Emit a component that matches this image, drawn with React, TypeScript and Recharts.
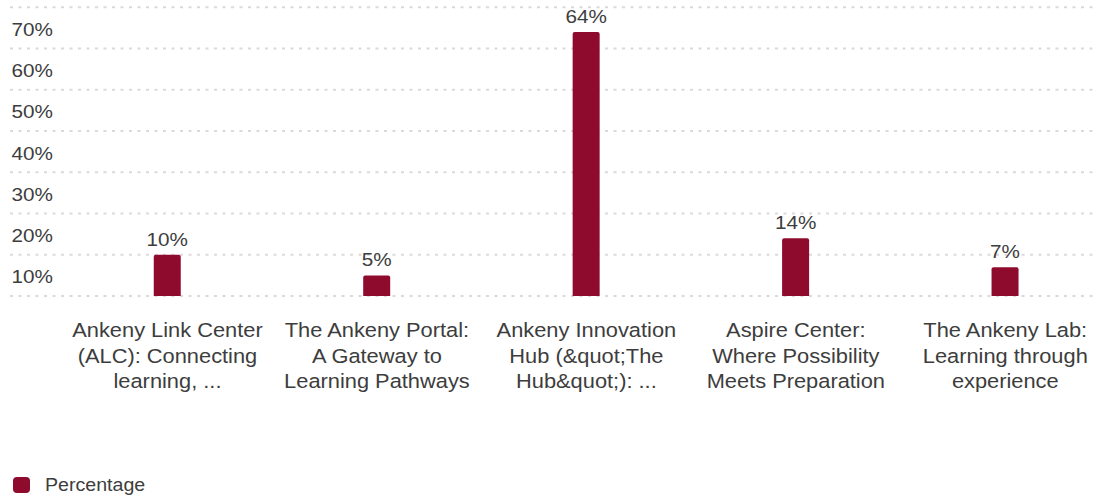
import { BarChart, Bar, XAxis, YAxis, CartesianGrid, LabelList } from 'recharts'

const CATEGORIES = [
  'Ankeny Link Center\n(ALC): Connecting\nlearning, ...',
  'The Ankeny Portal:\nA Gateway to\nLearning Pathways',
  'Ankeny Innovation\nHub (&quot;The\nHub&quot;): ...',
  'Aspire Center:\nWhere Possibility\nMeets Preparation',
  'The Ankeny Lab:\nLearning through\nexperience',
]

const PERCENTAGES = [10, 5, 64, 14, 7]

const Y_TICKS = [0, 10, 20, 30, 40, 50, 60, 70]

const SERIES_NAME = 'Percentage'

const BAR_COLOR = '#8e0b2e'
const TEXT_COLOR = '#3d3d3d'
const FONT = '"Liberation Sans", Arial, sans-serif'
const STRETCH = 1.12

const chartData = CATEGORIES.map((name, i) => ({ name, value: PERCENTAGES[i] }))

function YTick({ y, payload }: any) {
  if (!payload.value) return null
  return (
    <text
      transform={`translate(11.5, ${y + 28.5}) scale(${STRETCH}, 1)`}
      fill={TEXT_COLOR}
      fontSize={18.5}
      fontFamily={FONT}
      textAnchor="start"
    >
      {payload.value}%
    </text>
  )
}

function XTick({ x, y, payload }: any) {
  const lines = String(payload.value).split('\n')
  return (
    <g>
      {lines.map((line: string, i: number) => (
        <text
          key={i}
          transform={`translate(${x}, ${y + 41 + i * 25.5}) scale(${STRETCH}, 1)`}
          fill={TEXT_COLOR}
          fontSize={19.5}
          fontFamily={FONT}
          textAnchor="middle"
        >
          {line}
        </text>
      ))}
    </g>
  )
}

function ValueLabel({ x, y, width, value }: any) {
  return (
    <text
      transform={`translate(${x + width / 2}, ${y - 9}) scale(${STRETCH}, 1)`}
      fill={TEXT_COLOR}
      fontSize={18.5}
      fontFamily={FONT}
      textAnchor="middle"
    >
      {value}%
    </text>
  )
}

export default function App() {
  return (
    <div
      style={{
        position: 'absolute',
        left: 0,
        top: 0,
        width: 1097,
        height: 497,
        overflow: 'hidden',
        background: '#fff',
      }}
    >
      <BarChart
        width={1120}
        height={497}
        data={chartData}
        margin={{ top: 7.25, right: 10, bottom: 81, left: 10 }}
      >
        <CartesianGrid
          horizontal
          vertical={false}
          x={10}
          width={1110}
          stroke="#dadada"
          strokeWidth={2}
          strokeDasharray="3 5.5"
        />
        <YAxis
          width={52.75}
          domain={[0, 70]}
          ticks={Y_TICKS}
          interval={0}
          axisLine={false}
          tickLine={false}
          tickSize={0}
          tick={<YTick />}
        />
        <XAxis
          dataKey="name"
          height={120}
          interval={0}
          axisLine={false}
          tickLine={false}
          tickSize={0}
          tickMargin={0}
          tick={<XTick />}
        />
        <Bar
          dataKey="value"
          name={SERIES_NAME}
          fill={BAR_COLOR}
          barSize={27}
          radius={[2, 2, 0, 0]}
          isAnimationActive={false}
        >
          <LabelList dataKey="value" content={<ValueLabel />} />
        </Bar>
      </BarChart>
      <div
        style={{
          position: 'absolute',
          left: 13,
          top: 477,
          display: 'flex',
          alignItems: 'center',
          fontFamily: FONT,
        }}
      >
        <span
          style={{
            display: 'inline-block',
            width: 17,
            height: 16,
            borderRadius: 4,
            background: BAR_COLOR,
          }}
        />
        <span
          style={{
            marginLeft: 15,
            fontSize: 17.5,
            color: TEXT_COLOR,
            display: 'inline-block',
            transform: `scaleX(${STRETCH})`,
            transformOrigin: 'left center',
            lineHeight: '16px',
          }}
        >
          {SERIES_NAME}
        </span>
      </div>
    </div>
  )
}
